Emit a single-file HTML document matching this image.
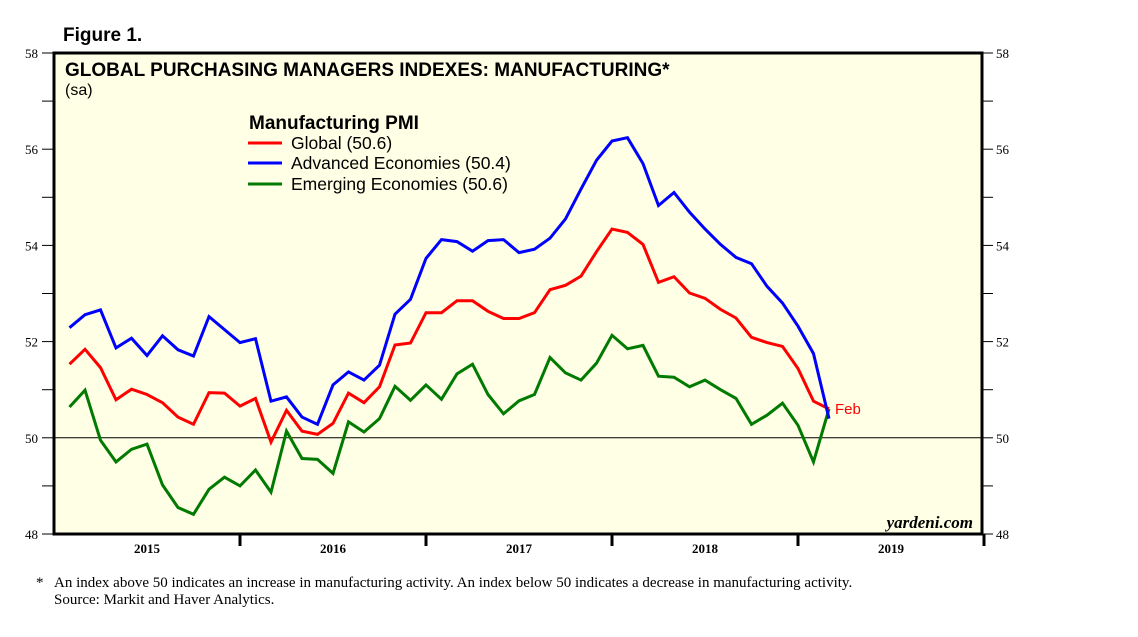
<!DOCTYPE html>
<html><head><meta charset="utf-8"><style>
body{margin:0;background:#fff;}
svg{display:block;}
</style></head><body>
<svg width="1138" height="637" viewBox="0 0 1138 637" xmlns="http://www.w3.org/2000/svg">
<text x="63" y="41" font-family="Liberation Sans, sans-serif" font-weight="bold" font-size="19">Figure 1.</text>
<rect x="54" y="53" width="928" height="481" fill="#ffffe6"/>
<g id="axes"></g>
<g id="series"></g>
<rect x="54" y="53" width="928" height="481" fill="none" stroke="#000" stroke-width="3"/>
<text x="65" y="76" font-family="Liberation Sans, sans-serif" font-weight="bold" font-size="19">GLOBAL PURCHASING MANAGERS INDEXES: MANUFACTURING*</text>
<text x="65" y="95" font-family="Liberation Sans, sans-serif" font-size="16">(sa)</text>
<g font-family="Liberation Sans, sans-serif">
<text x="249" y="129" font-weight="bold" font-size="19">Manufacturing PMI</text>
<line x1="248" y1="143" x2="282" y2="143" stroke="#ff0000" stroke-width="3"/>
<text x="291" y="149" font-size="17.5">Global (50.6)</text>
<line x1="248" y1="163" x2="282" y2="163" stroke="#0000ff" stroke-width="3"/>
<text x="291" y="169" font-size="17.5">Advanced Economies (50.4)</text>
<line x1="248" y1="184" x2="282" y2="184" stroke="#007a00" stroke-width="3"/>
<text x="291" y="190" font-size="17.5">Emerging Economies (50.6)</text>
</g>
<text x="973" y="528" text-anchor="end" font-family="Liberation Serif, serif" font-style="italic" font-weight="bold" font-size="17">yardeni.com</text>
<text x="36" y="587" font-family="Liberation Serif, serif" font-size="15">*</text>
<text x="54" y="587" font-family="Liberation Serif, serif" font-size="15">An index above 50 indicates an increase in manufacturing activity. An index below 50 indicates a decrease in manufacturing activity.</text>
<text x="54" y="604" font-family="Liberation Serif, serif" font-size="15">Source: Markit and Haver Analytics.</text>
</svg>
<script>
const yTicks=[48,50,52,54,56,58];
const years=["2015","2016","2017","2018","2019"];
const globalPMI=[51.53,51.84,51.46,50.79,51.01,50.9,50.73,50.43,50.28,50.94,50.93,50.66,50.82,49.91,50.57,50.14,50.07,50.3,50.93,50.73,51.06,51.93,51.97,52.6,52.6,52.85,52.85,52.63,52.48,52.48,52.6,53.08,53.17,53.36,53.87,54.34,54.27,54.02,53.23,53.35,53.01,52.9,52.67,52.49,52.09,51.98,51.9,51.44,50.76,50.6];
const advancedPMI=[52.29,52.56,52.66,51.87,52.07,51.71,52.12,51.83,51.7,52.52,52.25,51.98,52.06,50.76,50.85,50.43,50.28,51.1,51.37,51.2,51.51,52.57,52.88,53.73,54.12,54.08,53.88,54.1,54.12,53.85,53.92,54.15,54.55,55.17,55.77,56.17,56.24,55.7,54.83,55.1,54.69,54.34,54.02,53.75,53.62,53.15,52.8,52.32,51.75,50.4];
const emergingPMI=[50.64,50.99,49.95,49.5,49.76,49.87,49.02,48.55,48.41,48.93,49.18,49.0,49.33,48.87,50.14,49.57,49.55,49.26,50.33,50.12,50.4,51.07,50.78,51.1,50.8,51.33,51.53,50.9,50.5,50.77,50.9,51.67,51.35,51.2,51.55,52.13,51.85,51.92,51.28,51.26,51.06,51.2,51.0,50.82,50.28,50.47,50.72,50.26,49.5,50.6];
const NS="http://www.w3.org/2000/svg";
const X0=54,YW=186,Y0=534,PX=48.1;
function xScale(i){return X0+(i+1)*YW/12;}
function yScale(v){return Y0-(v-48)*PX;}
function mk(tag,attrs,parent,txt){const e=document.createElementNS(NS,tag);for(const k in attrs)e.setAttribute(k,attrs[k]);if(txt!==undefined)e.textContent=txt;parent.appendChild(e);return e;}
const ax=document.getElementById('axes');
for(let v=48;v<=58;v++){const y=yScale(v);
 let t=mk('line',{x1:42,x2:54,y1:y,y2:y,stroke:'#000','stroke-width':1},ax);
 
 
 let t2=mk('line',{x1:982,x2:993,y1:y,y2:y,stroke:'#000','stroke-width':1},ax);
 
 
}
yTicks.forEach(v=>{const y=yScale(v);
 let l=mk('text',{x:38,y:y+5,'text-anchor':'end','font-family':'Liberation Serif, serif','font-size':13},ax,String(v));
 
 
 let r=mk('text',{x:996,y:y+5,'font-family':'Liberation Serif, serif','font-size':13},ax,String(v));
 
 
});
let h=mk('line',{x1:54,x2:982,y1:yScale(50),y2:yScale(50),stroke:'#000','stroke-width':1},ax);


years.forEach((yr,k)=>{
 const xs=X0+k*YW;
 if(k>0){let t=mk('line',{x1:xs,x2:xs,y1:534,y2:546,stroke:'#000','stroke-width':3},ax);
 
 }
 let l=mk('text',{x:xs+YW/2,y:553,'text-anchor':'middle','font-family':'Liberation Serif, serif','font-weight':'bold','font-size':13},ax,yr);
 
 
});
{let t=mk('line',{x1:X0+5*YW,x2:X0+5*YW,y1:534,y2:546,stroke:'#000','stroke-width':3},ax);
 
 }
const sg=document.getElementById('series');
function draw(arr,color,name){
 const d=arr.map((v,i)=>(i?'L':'M')+xScale(i).toFixed(1)+','+yScale(v).toFixed(1)).join(' ');
 const p=mk('path',{d:d,fill:'none',stroke:color,'stroke-width':3,'stroke-linejoin':'miter'},sg);
 
 
}
draw(emergingPMI,'#007a00','emerging-economies-line');
draw(globalPMI,'#ff0000','global-line');
draw(advancedPMI,'#0000ff','advanced-economies-line');
const li=globalPMI.length-1;
const f=mk('text',{x:xScale(li)+6,y:yScale(globalPMI[li])+5,fill:'#ff0000','font-family':'Liberation Sans, sans-serif','font-size':15},sg,'Feb');


</script>
</body></html>
